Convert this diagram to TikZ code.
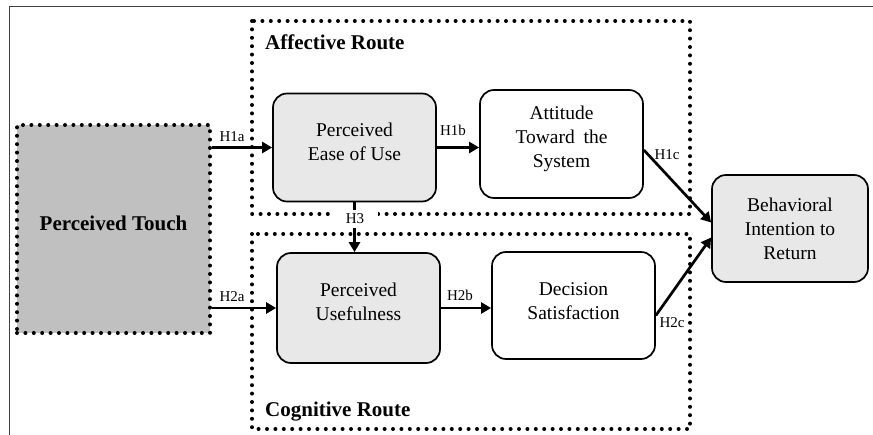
\documentclass[tikz,border=0pt]{standalone}
\usepackage{fontspec}
\setmainfont{Liberation Serif}
\usetikzlibrary{arrows.meta,calc}
\definecolor{touchgray}{HTML}{C0C0C0}
\definecolor{lightbox}{HTML}{E8E8E8}
\definecolor{framegray}{HTML}{404040}
\begin{document}
\begin{tikzpicture}[x=1pt,y=-1pt,
  box/.style={draw,line width=1.7pt,rounded corners=14pt,inner sep=0pt,
    minimum width=163pt,minimum height=108pt},
  boxtext/.style={align=center,inner sep=0pt,yshift=6pt,
    font=\fontsize{19.5}{24}\selectfont},
  dotbox/.style={line width=4pt,line cap=round,dash pattern=on 0pt off 8.4pt},
  title/.style={font=\fontsize{21}{24}\selectfont\bfseries,anchor=west,inner sep=0pt},
  hyp/.style={font=\fontsize{15}{17}\selectfont,inner sep=1pt},
  arr/.style={line width=2.7pt,-{Triangle[length=10pt,width=11pt]}}]

% page frame and outer bounds
\useasboundingbox (0,0) rectangle (873,435);
\draw[framegray,line width=1pt] (9,435) -- (9,7) -- (873,7);

% dotted route groups
\draw[dotbox] (252,21) rectangle (690,214);
\draw[dotbox] (252,234) rectangle (690,429);
\node[title] (aff) at (265,42) {Affective Route};
\node[title] (cog) at (265,412) {Cognitive Route};

% construct boxes
\node[dotbox,draw,fill=touchgray,minimum width=193pt,minimum height=208pt,inner sep=0pt,
      label={[font=\fontsize{21}{24}\selectfont\bfseries,yshift=6pt]center:Perceived Touch}]
      (PT) at (113.5,229) {};
\node[box,fill=lightbox,label={[boxtext]center:Perceived\\Ease of Use}] (PEU) at (354.5,147.5) {};
\node[box,fill=white,label={[boxtext,yshift=-1pt]center:Attitude\\Toward\hspace{0.45em}the\\System}] (ATS) at (561.5,144) {};
\node[box,fill=lightbox,minimum height=110pt,label={[boxtext]center:Perceived\\Usefulness}] (PU) at (358.5,308) {};
\node[box,fill=white,minimum height=107pt,label={[boxtext,yshift=-2pt]center:Decision\\Satisfaction}] (DS) at (573.5,305.5) {};
\node[box,fill=lightbox,minimum width=156pt,minimum height=107pt,
      label={[boxtext,yshift=-6pt]center:Behavioral\\Intention to\\Return}] (BI) at (790,228.5) {};

% hypothesised paths
\draw[arr] (PEU.west -| PT.east) -- (PEU.west);
\draw[arr] (PU.west -| PT.east) -- (PU.west);
\draw[arr] (PEU.east) -- (ATS.west |- PEU.east);
\draw[arr] (PU.east) -- (DS.west |- PU.east);
\draw[arr] ($(ATS.east)+(0,6)$) -- ($(BI.west)+(0,-6)$);
\draw[arr] ($(DS.east)+(0,10)$) -- ($(BI.west)+(0,9)$);
\draw[arr] (PEU.south) -- (PEU.south |- PU.north);

% path labels
\node[hyp] (h1a) at (232,137) {H1a};
\node[hyp] (h2a) at (232,297) {H2a};
\node[hyp] (h1b) at (453,130) {H1b};
\node[hyp] (h2b) at (460,295) {H2b};
\node[hyp] (h1c) at (667,155) {H1c};
\node[hyp] (h2c) at (672,323) {H2c};
\node[hyp,fill=white,minimum width=45pt,minimum height=18pt] (h3) at (355,219) {H3};
\end{tikzpicture}
\end{document}
